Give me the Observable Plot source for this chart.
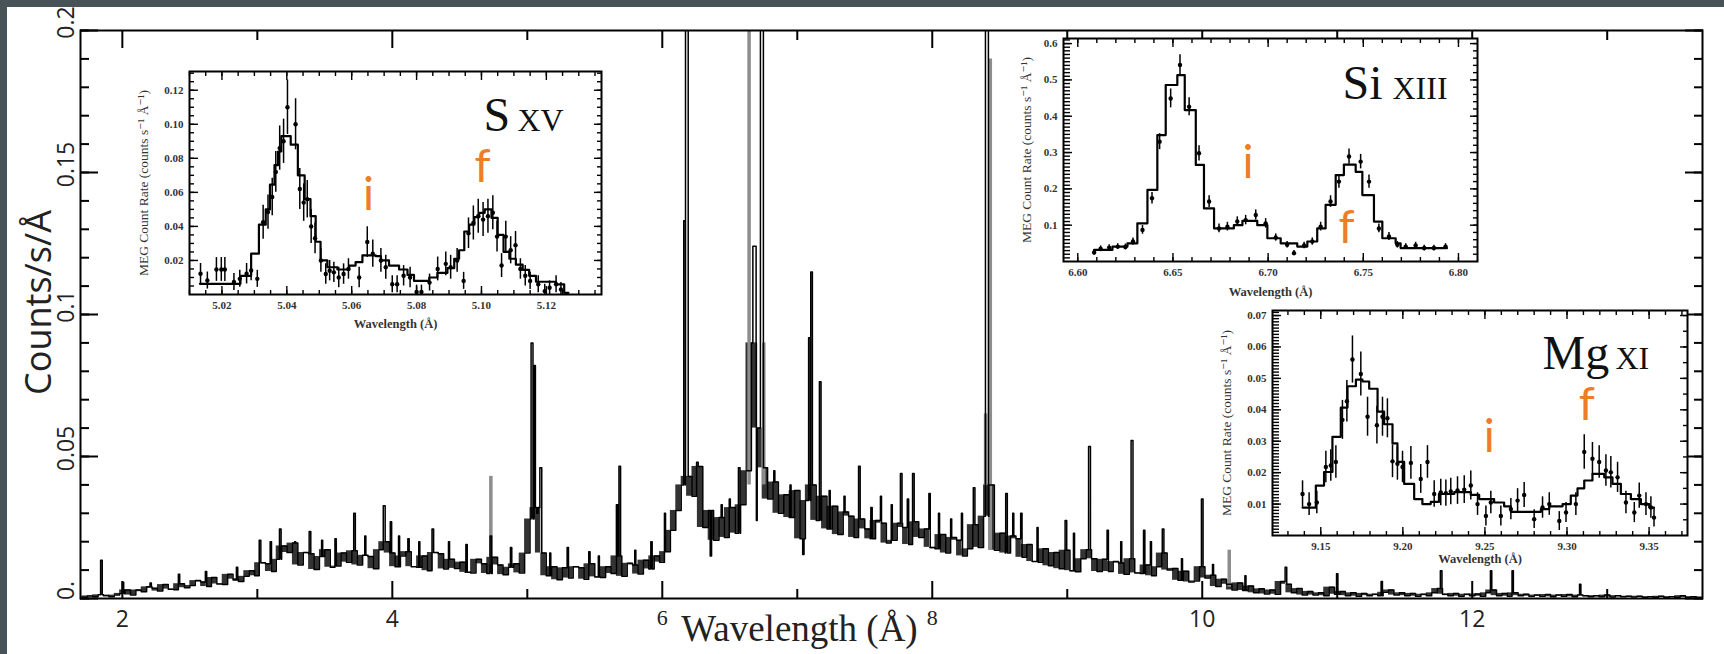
<!DOCTYPE html>
<html><head><meta charset="utf-8">
<script src="https://cdn.jsdelivr.net/npm/d3@7"></script>
<script src="https://cdn.jsdelivr.net/npm/@observablehq/plot@0.6"></script>
<style>
html,body{margin:0;padding:0;background:#fff;}
#wrap{position:relative;width:1724px;height:654px;overflow:hidden;background:#fff;}
.bar{position:absolute;background:#485357;}
</style></head><body>
<div id="wrap"></div>
<script>
// ---------------- main spectrum (counts/s/Å) ----------------
const binStart = 1.70, binWidth = 0.04;
const continuum = [
 0.0005,0.0009,0.0006,0.0013,0.0011,0.0006,0.0012,0.0018,0.0030,0.0012,
 0.0030,0.0024,0.0041,0.0036,0.0026,0.0049,0.0033,0.0031,0.0052,0.0038,
 0.0046,0.0063,0.0058,0.0042,0.0074,0.0051,0.0049,0.0085,0.0068,0.0060,
 0.0078,0.0098,0.0080,0.0126,0.0122,0.0095,0.0138,0.0185,0.0162,0.0195,
 0.0118,0.0162,0.0158,0.0102,0.0148,0.0172,0.0110,0.0114,0.0160,0.0128,
 0.0168,0.0118,0.0152,0.0148,0.0105,0.0172,0.0200,0.0160,0.0112,0.0150,
 0.0165,0.0112,0.0110,0.0150,0.0098,0.0162,0.0158,0.0104,0.0138,0.0106,
 0.0128,0.0092,0.0090,0.0138,0.0122,0.0088,0.0145,0.0118,0.0084,0.0110,
 0.0122,0.0090,0.0160,0.0280,0.0320,0.0160,0.0080,0.0112,0.0066,0.0108,
 0.0072,0.0112,0.0108,0.0068,0.0122,0.0076,0.0074,0.0112,0.0088,0.0150,
 0.0078,0.0124,0.0118,0.0086,0.0135,0.0104,0.0150,0.0128,0.0165,0.0240,
 0.0310,0.0400,0.0430,0.0360,0.0465,0.0250,0.0310,0.0205,0.0285,0.0215,
 0.0320,0.0230,0.0330,0.0450,0.0900,0.0600,0.0460,0.0350,0.0410,0.0300,
 0.0365,0.0285,0.0380,0.0210,0.0345,0.0400,0.0275,0.0360,0.0245,0.0325,
 0.0225,0.0305,0.0290,0.0215,0.0280,0.0245,0.0210,0.0275,0.0265,0.0195,
 0.0205,0.0265,0.0250,0.0190,0.0270,0.0215,0.0245,0.0180,0.0175,0.0225,
 0.0160,0.0215,0.0205,0.0150,0.0175,0.0260,0.0180,0.0290,0.0400,0.0170,
 0.0230,0.0160,0.0220,0.0210,0.0145,0.0190,0.0130,0.0128,0.0175,0.0115,
 0.0162,0.0105,0.0170,0.0098,0.0094,0.0140,0.0172,0.0140,0.0095,0.0138,
 0.0095,0.0130,0.0125,0.0085,0.0140,0.0090,0.0088,0.0118,0.0080,0.0112,
 0.0160,0.0100,0.0106,0.0064,0.0096,0.0058,0.0062,0.0112,0.0072,0.0082,
 0.0042,0.0068,0.0050,0.0030,0.0055,0.0028,0.0044,0.0020,0.0034,0.0016,
 0.0030,0.0015,0.0060,0.0050,0.0020,0.0035,0.0012,0.0025,0.0012,0.0020,
 0.0010,0.0040,0.0015,0.0025,0.0010,0.0020,0.0008,0.0018,0.0010,0.0015,
 0.0010,0.0022,0.0030,0.0012,0.0020,0.0010,0.0018,0.0008,0.0015,0.0010,
 0.0020,0.0035,0.0015,0.0010,0.0018,0.0008,0.0015,0.0010,0.0016,0.0008,
 0.0020,0.0030,0.0010,0.0018,0.0008,0.0020,0.0010,0.0015,0.0008,0.0012,
 0.0008,0.0014,0.0006,0.0012,0.0008,0.0014,0.0006,0.0012,0.0010,0.0006,
 0.0010,0.0006,0.0012,0.0005,0.0010,0.0006,0.0008,0.0005,0.0008,0.0004,
 0.0006,0.0004,0.0008,0.0004,0.0006,0.0004,0.0010,0.0004,0.0006,0.0004
];
// narrow emission lines / features: wavelength, height, bin width (Å)
const lineWave = [1.845,2.005,2.21,2.42,2.62,2.85,3.02,3.10,3.17,3.28,3.39,3.48,3.58,3.72,3.80,3.94,3.99,4.05,4.12,4.20,4.30,4.42,4.55,4.73,4.88,
  5.035,5.055,5.075,5.100,5.17,5.30,5.46,5.53,5.665,5.685,5.80,5.92,6.02,6.165,6.182,6.26,6.36,6.44,6.50,6.57,6.683,6.700,6.738,
  6.83,6.95,7.045,7.090,7.106,7.170,7.24,7.35,7.46,7.55,7.62,7.70,7.77,7.82,7.86,7.98,8.05,8.14,8.22,8.31,8.405,8.55,8.60,8.66,8.78,
  8.99,9.05,9.165,9.30,9.40,9.48,9.57,9.62,9.71,9.85,10.00,10.08,10.32,10.62,11.00,11.33,11.77,12.14,12.30,12.80];
const lineHeight = [0.0135,0.0057,0.0055,0.0085,0.0095,0.0110,0.0205,0.0200,0.0245,0.0200,0.0236,0.0205,0.0210,0.0300,0.0220,0.0327,0.0270,0.0220,0.0210,0.0200,0.0245,0.0200,0.0190,0.0220,0.0180,
  0.0900,0.0820,0.0300,0.0460,0.0160,0.0180,0.0165,0.0150,0.0330,0.0466,0.0170,0.0200,0.0300,0.1330,0.2500,0.0480,0.0150,0.0330,0.0350,0.0460,0.1240,0.0275,0.2500,
  0.0450,0.0400,0.0155,0.0918,0.1150,0.0763,0.0380,0.0360,0.0466,0.0320,0.0360,0.0330,0.0440,0.0350,0.0440,0.0370,0.0300,0.0280,0.0300,0.0390,0.2500,0.0370,0.0300,0.0300,0.0250,
  0.0275,0.0230,0.0535,0.0240,0.0200,0.0556,0.0240,0.0200,0.0245,0.0140,0.0350,0.0120,0.0080,0.0110,0.0087,0.0060,0.0098,0.0098,0.0098,0.0050];
const lineBinWidth = [0.012,0.010,0.010,0.010,0.010,0.010,0.012,0.010,0.012,0.008,0.012,0.008,0.010,0.012,0.008,0.014,0.010,0.008,0.010,0.008,0.012,0.008,0.010,0.012,0.010,
  0.014,0.010,0.010,0.014,0.008,0.010,0.010,0.008,0.010,0.012,0.008,0.010,0.008,0.012,0.020,0.012,0.010,0.008,0.008,0.012,0.024,0.006,0.022,
  0.008,0.008,0.010,0.012,0.012,0.012,0.008,0.008,0.012,0.010,0.008,0.008,0.012,0.010,0.012,0.010,0.008,0.008,0.008,0.012,0.022,0.012,0.008,0.010,0.008,
  0.012,0.008,0.014,0.010,0.008,0.014,0.010,0.008,0.012,0.008,0.012,0.008,0.008,0.012,0.010,0.010,0.012,0.010,0.010,0.010];
// second (grey) spectrum where it shows
const greyWave = [4.73, 6.643, 6.752, 8.395, 8.43, 10.20];
const greyLow  = [0.012, 0.040, 0.040, 0.040, 0.017, 0.004];
const greyHigh = [0.043, 0.250, 0.090, 0.065, 0.190, 0.017];

const xMajorTicks = [2, 4, 6, 8, 10, 12];
const xMinorTicks = [3, 5, 7, 9, 11, 13];
const xSansLabels = [2, 4, 10, 12];
const xSerifLabels = [6, 8];
const yTickValues = [0, 0.05, 0.1, 0.15, 0.2];
const yTickLabels = ["0.", "0.05", "0.1", "0.15", "0.2"];

// ---------------- S XV inset ----------------
const sxvModelWave = [5.0132,5.0257,5.0290,5.0314,5.0335,5.0348,5.0362,5.0373,5.0383,5.0412,5.0434,5.0455,5.0473,5.0489,5.0504,5.0525,5.0556,5.0592,5.0612,5.0633,5.0674,5.0690,5.0715,5.0746,5.0772,5.0792,5.0839,5.0864,5.0895,5.0916,5.0931,5.0947,5.0962,5.0978,5.0993,5.1010,5.1031,5.1050,5.1068,5.1086,5.1106,5.1127,5.1147,5.1168,5.1230,5.1255,5.1268];
const sxvModelRate = [0.0063,0.0110,0.0240,0.0410,0.0500,0.0645,0.0760,0.0840,0.0930,0.0880,0.0700,0.0560,0.0460,0.0310,0.0200,0.0160,0.0147,0.0170,0.0190,0.0230,0.0225,0.0200,0.0170,0.0147,0.0115,0.0080,0.0100,0.0127,0.0155,0.0210,0.0260,0.0370,0.0410,0.0455,0.0480,0.0500,0.0450,0.0350,0.0250,0.0210,0.0175,0.0145,0.0110,0.0075,0.0060,0.0010,0.0010];
const sxvPointWave = [5.0134,5.0155,5.0183,5.0198,5.0209,5.0237,5.0255,5.0276,5.0290,5.0309,5.0327,5.0342,5.0355,5.0366,5.0378,5.0390,5.0402,5.0427,5.0440,5.0452,5.0463,5.0475,5.0487,5.0505,5.0520,5.0532,5.0545,5.0560,5.0575,5.0590,5.0623,5.0648,5.0665,5.0690,5.0705,5.0725,5.0740,5.0760,5.0780,5.0800,5.0815,5.0840,5.0865,5.0890,5.0905,5.0925,5.0945,5.0960,5.0975,5.0990,5.1005,5.1020,5.1035,5.1048,5.1062,5.1075,5.1090,5.1105,5.1120,5.1135,5.1150,5.1175,5.1195,5.1210,5.1230,5.1245];
const sxvPointRate = [0.0122,0.0082,0.0147,0.0147,0.0147,0.0073,0.0092,0.0122,0.0141,0.0092,0.0425,0.0484,0.0573,0.0720,0.0860,0.0900,0.1100,0.1000,0.0620,0.0540,0.0560,0.0400,0.0330,0.0200,0.0120,0.0140,0.0130,0.0100,0.0120,0.0150,0.0100,0.0308,0.0240,0.0200,0.0160,0.0060,0.0060,0.0110,0.0100,0.0015,0.0015,0.0070,0.0150,0.0180,0.0160,0.0200,0.0080,0.0360,0.0420,0.0460,0.0440,0.0460,0.0480,0.0340,0.0170,0.0340,0.0260,0.0290,0.0150,0.0110,0.0080,0.0060,0.0020,0.0040,0.0060,0.0030];
const sxvPointErr = [0.006,0.005,0.007,0.007,0.007,0.005,0.005,0.006,0.006,0.005,0.010,0.010,0.011,0.012,0.013,0.013,0.016,0.015,0.012,0.011,0.011,0.010,0.009,0.007,0.006,0.006,0.006,0.006,0.006,0.006,0.006,0.009,0.008,0.007,0.007,0.005,0.005,0.006,0.006,0.004,0.004,0.005,0.007,0.007,0.007,0.007,0.005,0.009,0.010,0.010,0.010,0.010,0.010,0.009,0.007,0.009,0.008,0.008,0.006,0.006,0.005,0.005,0.004,0.004,0.005,0.004];
const sxvLabelWave = [5.0652, 5.1003], sxvLabelRate = [0.0494, 0.0660];

// ---------------- Si XIII inset ----------------
const siModelWave = [6.6086,6.6182,6.6261,6.6313,6.6366,6.6418,6.6462,6.6523,6.6562,6.6620,6.6663,6.6716,6.6820,6.6865,6.6943,6.6996,6.7066,6.7153,6.7206,6.7258,6.7302,6.7355,6.7398,6.7460,6.7495,6.7556,6.7600,6.7670,6.7696,6.7940];
const siModelRate = [0.032,0.041,0.050,0.105,0.197,0.348,0.486,0.513,0.417,0.266,0.146,0.091,0.100,0.112,0.100,0.064,0.050,0.041,0.055,0.091,0.156,0.238,0.267,0.247,0.183,0.110,0.064,0.050,0.037,0.037];
const siPointWave = [6.6086,6.6120,6.6165,6.6210,6.6250,6.6290,6.6340,6.6390,6.6430,6.6488,6.6537,6.6585,6.6637,6.6690,6.6742,6.6786,6.6838,6.6882,6.6935,6.6987,6.7040,6.7100,6.7136,6.7189,6.7232,6.7276,6.7328,6.7372,6.7425,6.7486,6.7530,6.7582,6.7635,6.7679,6.7723,6.7775,6.7820,6.7871,6.7932];
const siPointRate = [0.025,0.035,0.038,0.041,0.040,0.055,0.087,0.174,0.330,0.449,0.541,0.426,0.298,0.165,0.091,0.096,0.110,0.114,0.128,0.105,0.066,0.046,0.023,0.044,0.055,0.096,0.165,0.220,0.289,0.275,0.220,0.091,0.069,0.046,0.041,0.044,0.037,0.037,0.041];
const siPointErr = [0.008,0.008,0.008,0.008,0.008,0.010,0.012,0.016,0.022,0.026,0.028,0.025,0.021,0.016,0.012,0.012,0.013,0.013,0.014,0.013,0.010,0.009,0.007,0.009,0.010,0.012,0.016,0.018,0.021,0.020,0.018,0.012,0.011,0.009,0.008,0.009,0.008,0.008,0.008];
const siLabelWave = [6.6895, 6.7412], siLabelRate = [0.229, 0.050];

// ---------------- Mg XI inset ----------------
const mgModelWave = [9.1389,9.1470,9.1520,9.1571,9.1622,9.1663,9.1714,9.1754,9.1795,9.1846,9.1886,9.1937,9.1967,9.2008,9.2069,9.2119,9.2170,9.2220,9.2313,9.2414,9.2465,9.2556,9.2617,9.2658,9.2841,9.2892,9.2973,9.3023,9.3064,9.3105,9.3155,9.3227,9.3277,9.3328,9.3389,9.3450,9.3501,9.3530];
const mgModelRate = [0.0089,0.0159,0.0202,0.0314,0.0407,0.0475,0.0496,0.0490,0.0467,0.0394,0.0354,0.0293,0.0234,0.0164,0.0116,0.0100,0.0107,0.0132,0.0138,0.0129,0.0116,0.0105,0.0093,0.0075,0.0084,0.0093,0.0100,0.0127,0.0150,0.0175,0.0196,0.0185,0.0164,0.0132,0.0116,0.0100,0.0089,0.0089];
const mgPointWave = [9.1389,9.1429,9.1476,9.1531,9.1561,9.1592,9.1632,9.1659,9.1693,9.1744,9.1785,9.1842,9.1876,9.1906,9.1937,9.1967,9.1998,9.2049,9.2109,9.2150,9.2191,9.2231,9.2262,9.2292,9.2333,9.2374,9.2414,9.2455,9.2506,9.2536,9.2597,9.2658,9.2699,9.2739,9.2800,9.2851,9.2892,9.2953,9.2994,9.3054,9.3105,9.3155,9.3196,9.3237,9.3267,9.3308,9.3359,9.3410,9.3440,9.3481,9.3511,9.3530];
const mgPointRate = [0.0132,0.0100,0.0105,0.0218,0.0223,0.0234,0.0368,0.0427,0.0560,0.0514,0.0378,0.0351,0.0378,0.0373,0.0236,0.0228,0.0218,0.0231,0.0180,0.0234,0.0132,0.0137,0.0135,0.0140,0.0143,0.0146,0.0159,0.0100,0.0062,0.0105,0.0062,0.0084,0.0111,0.0129,0.0052,0.0089,0.0100,0.0046,0.0073,0.0100,0.0266,0.0244,0.0234,0.0207,0.0201,0.0185,0.0105,0.0073,0.0127,0.0100,0.0089,0.0057];
const mgPointErr = [0.0042,0.0036,0.0036,0.0050,0.0050,0.0052,0.0062,0.0066,0.0075,0.0070,0.0062,0.0060,0.0062,0.0062,0.0052,0.0052,0.0050,0.0052,0.0046,0.0052,0.0042,0.0042,0.0042,0.0042,0.0044,0.0044,0.0046,0.0036,0.0032,0.0036,0.0032,0.0034,0.0038,0.0040,0.0030,0.0034,0.0036,0.0030,0.0032,0.0036,0.0055,0.0052,0.0052,0.0050,0.0050,0.0048,0.0036,0.0032,0.0040,0.0036,0.0034,0.0030];
const mgLabelWave = [9.2526, 9.3121], mgLabelRate = [0.0266, 0.0369];

const lineLetters = ["i", "f"];
const yAxisInsetLabel = "MEG Count Rate (counts s\u207B\u00B9 \u00C5\u207B\u00B9)";

// ================= build =================
(function () {
const wrap = document.getElementById("wrap");
const zip = (xs, ys) => xs.slice(0, Math.min(xs.length, ys.length)).map((x, i) => ({x, y: ys[i]}));

// continuum bins + narrow line bins -> one step series
let segs = continuum.map((y, i) => ({x0: binStart + i * binWidth, x1: binStart + (i + 1) * binWidth, y}));
lineWave.forEach((w, k) => {
  const a = w - lineBinWidth[k] / 2, b = w + lineBinWidth[k] / 2;
  const out = [];
  for (const s of segs) {
    if (s.x1 <= a || s.x0 >= b) { out.push(s); continue; }
    if (s.x0 < a) out.push({x0: s.x0, x1: a, y: s.y});
    if (s.x1 > b) out.push({x0: b, x1: s.x1, y: s.y});
  }
  out.push({x0: a, x1: b, y: lineHeight[k]});
  out.sort((p, q) => p.x0 - q.x0);
  segs = out;
});
const spectrum = segs.map(s => ({x: s.x0, y: s.y}));
spectrum.push({x: segs[segs.length - 1].x1, y: segs[segs.length - 1].y});
// filled band between neighbouring continuum levels (dense look of the fine bins)
const bands = continuum.map((c, i) => {
  const n = continuum[Math.min(i + 1, continuum.length - 1)];
  return {x1: binStart + i * binWidth, x2: binStart + (i + 1) * binWidth, y1: Math.min(c, n), y2: Math.max(c, n)};
});
const greyData = greyWave.map((x, i) => ({x, y1: greyLow[i], y2: greyHigh[i]}));
const yTicks = yTickValues.map((v, i) => ({v, label: yTickLabels[i]}));

const SANS = "'Open Sans', 'DejaVu Sans', sans-serif";
const SERIF = "'Liberation Serif', 'DejaVu Serif', serif";
const blank = () => "";

const mainPlot = Plot.plot({
  width: 1724, height: 654,
  marginLeft: 80, marginRight: 22, marginTop: 30, marginBottom: 56,
  x: {domain: [1.69, 13.706], label: null},
  y: {domain: [0, 0.2], label: null},
  style: {background: "white", overflow: "visible"},
  marks: [
    Plot.rect(bands, {x1: "x1", x2: "x2", y1: "y1", y2: "y2", fill: "#000", fillOpacity: 0.8, clip: true}),
    Plot.ruleX(greyData, {x: "x", y1: "y1", y2: "y2", stroke: "#8d8d8d", strokeWidth: 3.5, clip: true}),
    Plot.line(spectrum, {x: "x", y: "y", curve: "step-after", stroke: "#000", strokeWidth: 1.5, clip: true}),
    Plot.frame({stroke: "#000", strokeWidth: 2}),
    Plot.axisX({anchor: "bottom", ticks: xMajorTicks, tickSize: -17, strokeWidth: 2, tickFormat: blank}),
    Plot.axisX({anchor: "bottom", ticks: xMinorTicks, tickSize: -9, strokeWidth: 2, tickFormat: blank}),
    Plot.axisX({anchor: "top", ticks: xMajorTicks, tickSize: -17, strokeWidth: 2, tickFormat: blank}),
    Plot.axisX({anchor: "top", ticks: xMinorTicks, tickSize: -9, strokeWidth: 2, tickFormat: blank}),
    Plot.axisY({anchor: "left", ticks: yTickValues, tickSize: -18, strokeWidth: 2, tickFormat: blank}),
    Plot.axisY({anchor: "left", ticks: d3.range(0, 0.2001, 0.01), tickSize: -9, strokeWidth: 2, tickFormat: blank}),
    Plot.axisY({anchor: "right", ticks: yTickValues, tickSize: -18, strokeWidth: 2, tickFormat: blank}),
    Plot.axisY({anchor: "right", ticks: d3.range(0, 0.2001, 0.01), tickSize: -9, strokeWidth: 2, tickFormat: blank}),
    Plot.axisX({anchor: "bottom", ticks: xSansLabels, tickSize: 0, tickPadding: 12, fontSize: 23, fontFamily: SANS, fill: "#222", tickFormat: d => String(d)}),
    Plot.axisX({anchor: "bottom", ticks: xSerifLabels, tickSize: 0, tickPadding: 11, fontSize: 22, fontFamily: SERIF, fill: "#222", tickFormat: d => String(d)}),
    Plot.text(yTicks, {y: "v", text: "label", frameAnchor: "left", rotate: -90, textAnchor: "middle", lineAnchor: "bottom", dx: -7, dy: -8, fontSize: 23, fontFamily: SANS, fill: "#222"}),
    Plot.text(["Counts/s/\u00C5"], {frameAnchor: "left", rotate: -90, textAnchor: "middle", lineAnchor: "bottom", dx: -30, dy: -12, fontSize: 36, fontFamily: SANS, fill: "#222"}),
    Plot.text(["Wavelength (\u00C5)"], {frameAnchor: "bottom", textAnchor: "middle", lineAnchor: "bottom", dx: -92, dy: 42, fontSize: 37, fontFamily: SERIF, fill: "#222"})
  ]
});
wrap.appendChild(mainPlot);

function drawInset(cfg) {
  const [fx0, fy0, fx1, fy1] = cfg.frame;
  const mL = 64, mR = 6, mT = 6, mB = 44;
  const model = zip(cfg.modelWave, cfg.modelRate);
  const pts = cfg.pointWave.map((x, i) => ({x, y: cfg.pointRate[i], e: cfg.pointErr[i]}));
  const labels = cfg.labelWave.map((x, i) => ({x, y: cfg.labelRate[i], t: lineLetters[i]}));
  const tickStyle = {strokeWidth: 1.4, tickFormat: blank};
  const plot = Plot.plot({
    width: fx1 - fx0 + mL + mR, height: fy1 - fy0 + mT + mB,
    marginLeft: mL, marginRight: mR, marginTop: mT, marginBottom: mB,
    x: {domain: cfg.xDomain, label: null},
    y: {domain: cfg.yDomain, label: null},
    style: {background: "transparent", overflow: "visible"},
    marks: [
      Plot.frame({fill: "white", stroke: null}),
      Plot.ruleX(pts, {x: "x", y1: d => d.y - d.e, y2: d => d.y + d.e, stroke: "#000", strokeWidth: 1.5, clip: true}),
      Plot.dot(pts, {x: "x", y: "y", r: 2.2, fill: "#000", stroke: null, clip: true}),
      Plot.line(model, {x: "x", y: "y", curve: "step-after", stroke: "#000", strokeWidth: 2.2}),
      Plot.axisX({anchor: "bottom", ticks: cfg.xMajor, tickSize: -8, ...tickStyle}),
      Plot.axisX({anchor: "bottom", ticks: cfg.xMinor, tickSize: -4, ...tickStyle}),
      Plot.axisX({anchor: "top", ticks: cfg.xMajor, tickSize: -8, ...tickStyle}),
      Plot.axisX({anchor: "top", ticks: cfg.xMinor, tickSize: -4, ...tickStyle}),
      Plot.axisY({anchor: "right", ticks: cfg.yMajor, tickSize: -8, ...tickStyle}),
      Plot.axisY({anchor: "right", ticks: cfg.yMinor, tickSize: -5, ...tickStyle}),
      Plot.axisY({anchor: "left", ticks: cfg.yMajor, tickSize: -9, ...tickStyle}),
      Plot.axisY({anchor: "left", ticks: cfg.yDense, tickSize: cfg.denseSize, ...tickStyle}),
      Plot.frame({stroke: "#000", strokeWidth: 2}),
      Plot.axisX({anchor: "bottom", ticks: cfg.xMajor, tickSize: 0, tickPadding: 7, fontSize: 11, fontFamily: SERIF, fontWeight: "bold", fill: "#333", tickFormat: cfg.xFmt}),
      Plot.axisY({anchor: "left", ticks: cfg.yMajor, tickSize: 0, tickPadding: 6, fontSize: 11, fontFamily: SERIF, fontWeight: "bold", fill: "#333", tickFormat: cfg.yFmt}),
      Plot.text(["Wavelength (\u00C5)"], {frameAnchor: "bottom", textAnchor: "middle", lineAnchor: "bottom", dy: cfg.xLabelDy, fontSize: 12.5, fontFamily: SERIF, fontWeight: "bold", fill: "#333"}),
      Plot.text([yAxisInsetLabel], {frameAnchor: "left", rotate: -90, textAnchor: "middle", lineAnchor: "bottom", dx: cfg.yLabelDx, fontSize: 13.5, fontFamily: SERIF, fill: "#333"}),
      Plot.text([cfg.element], {frameAnchor: "top-left", textAnchor: "start", lineAnchor: "bottom", dx: cfg.elementDx, dy: cfg.titleDy, fontSize: 48, fontFamily: SERIF, fill: "#111"}),
      Plot.text([cfg.ion], {frameAnchor: "top-left", textAnchor: "start", lineAnchor: "bottom", dx: cfg.ionDx, dy: cfg.titleDy, fontSize: 32, fontFamily: SERIF, fill: "#111"}),
      Plot.text(labels, {x: "x", y: "y", text: "t", textAnchor: "middle", lineAnchor: "bottom", fontSize: 46, fontFamily: "Lato, 'Open Sans', sans-serif", fill: "#ee7d2a"})
    ]
  });
  plot.style.position = "absolute";
  plot.style.left = (fx0 - mL) + "px";
  plot.style.top = (fy0 - mT) + "px";
  wrap.appendChild(plot);
}

drawInset({
  frame: [189, 71, 601, 294], xDomain: [5.01, 5.137], yDomain: [0, 0.131],
  modelWave: sxvModelWave, modelRate: sxvModelRate,
  pointWave: sxvPointWave, pointRate: sxvPointRate, pointErr: sxvPointErr,
  labelWave: sxvLabelWave, labelRate: sxvLabelRate,
  xMajor: [5.02, 5.04, 5.06, 5.08, 5.10, 5.12], xMinor: d3.range(5.01, 5.1365, 0.005),
  yMajor: [0.02, 0.04, 0.06, 0.08, 0.10, 0.12], yMinor: d3.range(0.005, 0.131, 0.005), yDense: d3.range(0.005, 0.131, 0.005), denseSize: -5,
  xFmt: d => d.toFixed(2), yFmt: d => d.toFixed(2),
  xLabelDy: 33, yLabelDx: -42, element: "S", ion: "XV", elementDx: 294, ionDx: 328, titleDy: 59
});
drawInset({
  frame: [1063, 38, 1477, 261], xDomain: [6.5925, 6.810], yDomain: [0, 0.614],
  modelWave: siModelWave, modelRate: siModelRate,
  pointWave: siPointWave, pointRate: siPointRate, pointErr: siPointErr,
  labelWave: siLabelWave, labelRate: siLabelRate,
  xMajor: [6.60, 6.65, 6.70, 6.75, 6.80], xMinor: d3.range(6.60, 6.8095, 0.01),
  yMajor: [0.1, 0.2, 0.3, 0.4, 0.5, 0.6], yMinor: d3.range(0.02, 0.614, 0.02), yDense: d3.range(0.01, 0.614, 0.01), denseSize: -7,
  xFmt: d => d.toFixed(2), yFmt: d => d.toFixed(1),
  xLabelDy: 34, yLabelDx: -33, element: "Si", ion: "XIII", elementDx: 279, ionDx: 329, titleDy: 60
});
drawInset({
  frame: [1272, 310, 1687, 535], xDomain: [9.1206, 9.3734], yDomain: [0, 0.0716],
  modelWave: mgModelWave, modelRate: mgModelRate,
  pointWave: mgPointWave, pointRate: mgPointRate, pointErr: mgPointErr,
  labelWave: mgLabelWave, labelRate: mgLabelRate,
  xMajor: [9.15, 9.20, 9.25, 9.30, 9.35], xMinor: d3.range(9.13, 9.3735, 0.01),
  yMajor: [0.01, 0.02, 0.03, 0.04, 0.05, 0.06, 0.07], yMinor: d3.range(0.005, 0.0716, 0.005), yDense: d3.range(0.001, 0.0716, 0.001), denseSize: -7,
  xFmt: d => d.toFixed(2), yFmt: d => d.toFixed(2),
  xLabelDy: 27, yLabelDx: -42, element: "Mg", ion: "XI", elementDx: 270, ionDx: 343, titleDy: 58
});

// dark surround of the original screenshot
const topBar = document.createElement("div"); topBar.className = "bar";
Object.assign(topBar.style, {left: "0px", top: "0px", width: "1724px", height: "7px"});
const leftBar = document.createElement("div"); leftBar.className = "bar";
Object.assign(leftBar.style, {left: "0px", top: "0px", width: "7px", height: "654px"});
wrap.appendChild(topBar); wrap.appendChild(leftBar);
})();
</script>
</body></html>
